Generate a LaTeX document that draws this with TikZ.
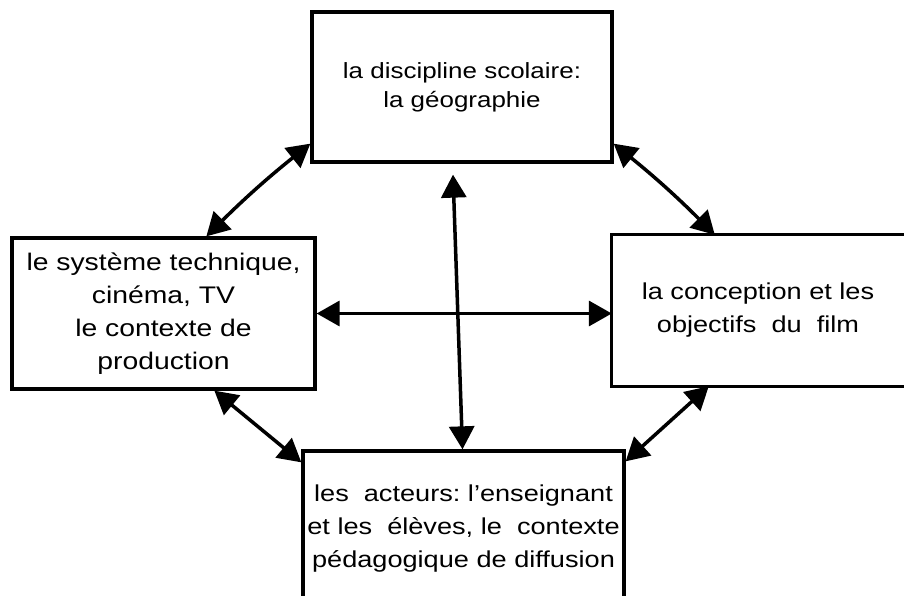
\documentclass[tikz,border=0pt]{standalone}
\usepackage{fontspec}
\setmainfont[FakeStretch=1.18]{Liberation Sans}
\usetikzlibrary{arrows.meta,calc}
\begin{document}
\begin{tikzpicture}[x=1pt,y=-1pt,
  box/.style={draw,line width=3.3pt,align=center,inner sep=0pt},
  openbox/.style={align=center,inner sep=0pt},
  maintext/.style={font=\fontsize{23}{33}\selectfont},
  link/.style={line width=3.5pt,{Triangle[length=23pt,width=25pt]}-{Triangle[length=23pt,width=25pt]}},
]
\useasboundingbox (0,0) rectangle (904,596);
\clip (0,0) rectangle (904,596);
\fill[white] (0,0) rectangle (904,596);
\node[box,minimum width=300pt,minimum height=150pt,font=\fontsize{22}{29}\selectfont] (top) at (462,87) {la discipline scolaire:\\la géographie};
\node[box,maintext,font=\fontsize{24}{33}\selectfont,minimum width=303pt,minimum height=151pt] (left) at (163.5,313.5) {le système technique,\\cinéma, TV\\le contexte de\\production};
\node[openbox,maintext,minimum width=292pt,minimum height=151pt] (right) at (758,310.5) {la conception et les\\objectifs\ \ du\ \ film};
\draw[line width=3.3pt] ([xshift=10pt]right.north east) -- (right.north west) -- (right.south west) -- ([xshift=10pt]right.south east);
\node[box,maintext,minimum width=321pt,minimum height=156pt] (bottom) at (463.5,529) {les\ \ acteurs:\ l'enseignant\\et les\ \ élèves,\ le\ \ contexte\\pédagogique de diffusion};
\draw[link] ([xshift=196pt]left.north west) to[bend left=3] ([yshift=20pt]top.south west);
\draw[link] ([yshift=20pt]top.south east) to[bend left=3] ([xshift=103pt]right.north west);
\draw[link] ([xshift=-9pt,yshift=-11pt]top.south) -- ([xshift=-1pt]bottom.north);
\draw[link] (left.east) -- (left.east -| right.west);
\draw[link] ([xshift=204pt]left.south west) -- ([yshift=-13pt]bottom.north west);
\draw[link] ([xshift=97pt]right.south west) -- ([yshift=-12pt]bottom.north east);
\end{tikzpicture}
\end{document}
